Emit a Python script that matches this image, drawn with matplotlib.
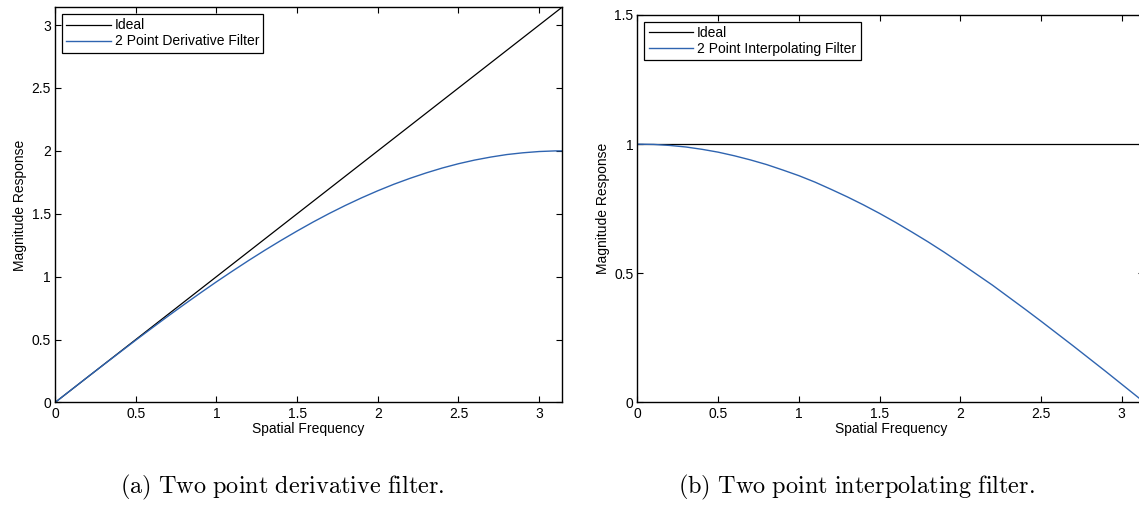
import numpy as np
import matplotlib
matplotlib.use("Agg")
import matplotlib.pyplot as plt

plt.rcParams["font.family"] = ["Liberation Sans", "DejaVu Sans"]
plt.rcParams["mathtext.fontset"] = "cm"

# values
freq = [0.0, 0.1, 0.2, 0.3, 0.4, 0.5, 0.6, 0.7, 0.8, 0.9, 1.0,
        1.1, 1.2, 1.3, 1.4, 1.5, 1.6, 1.7, 1.8, 1.9, 2.0,
        2.1, 2.2, 2.3, 2.4, 2.5, 2.6, 2.7, 2.8, 2.9, 3.0, 3.1, 3.1416]
deriv_resp = [0.0, 0.100, 0.200, 0.299, 0.397, 0.495, 0.591, 0.686, 0.779, 0.870, 0.959,
              1.045, 1.129, 1.210, 1.288, 1.363, 1.435, 1.503, 1.567, 1.627, 1.683,
              1.735, 1.782, 1.825, 1.864, 1.898, 1.927, 1.951, 1.971, 1.985, 1.995, 2.000, 2.000]
interp_resp = [1.000, 0.999, 0.995, 0.989, 0.980, 0.969, 0.955, 0.939, 0.921, 0.900, 0.878,
               0.853, 0.825, 0.796, 0.765, 0.732, 0.697, 0.660, 0.622, 0.582, 0.540,
               0.497, 0.454, 0.408, 0.362, 0.315, 0.267, 0.219, 0.170, 0.121, 0.071, 0.021, 0.0]
ideal_freq = [0.0, 3.1416]
ideal_deriv = [0.0, 3.1416]
ideal_interp = [1.0, 1.0]

blue = "#2f64b0"
fs = 10

fig = plt.figure(figsize=(11.39, 5.13), dpi=100)
ax1 = fig.add_axes([0.0483, 0.2154, 0.4451, 0.7704])
ax2 = fig.add_axes([0.5597, 0.2154, 0.4451, 0.7554])


def style(ax):
    ax.set_xlim(0, 3.1416)
    ax.tick_params(direction="in", length=4, width=0.8, top=True, right=True,
                   labelsize=fs, pad=3, colors="black")
    for s in ax.spines.values():
        s.set_linewidth(1.0)
        s.set_color("black")
    ax.set_xticks([0, 0.5, 1, 1.5, 2, 2.5, 3])
    ax.set_xticklabels(["0", "0.5", "1", "1.5", "2", "2.5", "3"])
    ax.set_xlabel("Spatial Frequency", fontsize=fs, labelpad=1)
    ax.set_ylabel("Magnitude Response", fontsize=fs, labelpad=3)


ax1.plot(ideal_freq, ideal_deriv, color="black", lw=0.9, label="Ideal")
ax1.plot(freq, deriv_resp, color=blue, lw=1.0, label="2 Point Derivative Filter")
style(ax1)
ax1.set_ylim(0, 3.1416)
ax1.set_yticks([0, 0.5, 1, 1.5, 2, 2.5, 3])
ax1.set_yticklabels(["0", "0.5", "1", "1.5", "2", "2.5", "3"])

ax2.plot(ideal_freq, ideal_interp, color="black", lw=0.9, label="Ideal")
ax2.plot(freq, interp_resp, color=blue, lw=1.0, label="2 Point Interpolating Filter")
style(ax2)
ax2.set_ylim(0, 1.5)
ax2.set_yticks([0, 0.5, 1, 1.5])
ax2.set_yticklabels(["0", "0.5", "1", "1.5"])

for ax in (ax1, ax2):
    leg = ax.legend(loc="upper left", fontsize=fs, fancybox=False, framealpha=1,
                    edgecolor="black", borderaxespad=0.5, handlelength=3.2,
                    handletextpad=0.3, labelspacing=0.15, borderpad=0.3)
    leg.get_frame().set_linewidth(0.9)

fig.text(0.248, 0.05, r"$\mathrm{(a)\ Two\ point\ derivative\ filter.}$",
         ha="center", va="center", fontsize=17.5)
fig.text(0.752, 0.05, r"$\mathrm{(b)\ Two\ point\ interpolating\ filter.}$",
         ha="center", va="center", fontsize=17.5)

fig.savefig("out.png", dpi=100)
